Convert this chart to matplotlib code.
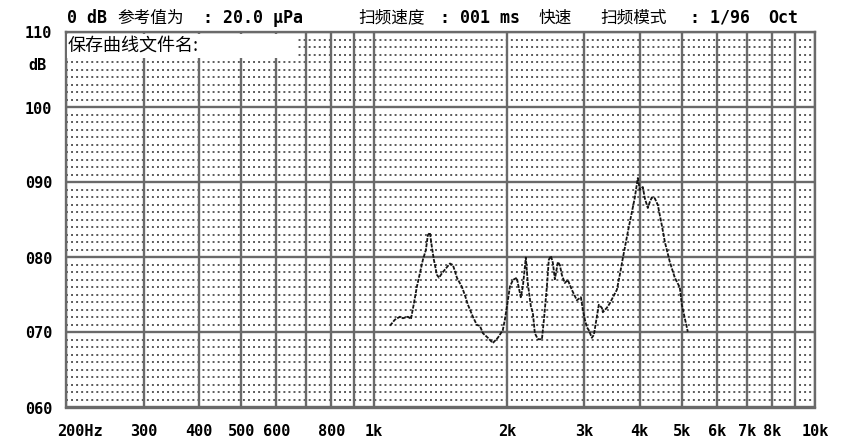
import matplotlib
matplotlib.use("Agg")
import matplotlib.pyplot as plt
import matplotlib.transforms as mtrans
from matplotlib.patches import Rectangle

# ---- data ----
freq_hz = [1086, 1114, 1144, 1162, 1193, 1212, 1231, 1250, 1270, 1290, 1310, 1324, 1338, 1352,
           1366, 1388, 1403, 1425, 1462, 1486, 1509, 1541, 1581, 1606, 1632, 1675, 1710, 1737,
           1765, 1811, 1859, 1908, 1958, 1979, 2000, 2032, 2064, 2107, 2118, 2151, 2174, 2197,
           2208, 2232, 2267, 2291, 2315, 2352, 2402, 2427, 2465, 2490, 2517, 2543, 2570, 2611,
           2638, 2665, 2707, 2750, 2808, 2883, 2944, 2975, 3006, 3038, 3069, 3118, 3151, 3200,
           3233, 3284, 3302, 3372, 3426, 3480, 3553, 3608, 3665, 3762, 3841, 3902, 3964, 4005,
           4068, 4111, 4176, 4220, 4264, 4331, 4400, 4493, 4564, 4685, 4809, 4936, 4988, 5066,
           5146]
level_db = [70.9, 71.7, 72.1, 71.9, 72.1, 71.8, 73.9, 76.1, 77.9, 79.7, 81.0, 83.0, 83.3, 81.4,
            79.7, 77.7, 77.3, 77.9, 78.7, 79.2, 79.0, 77.3, 76.1, 75.0, 73.7, 72.1, 71.0, 70.9,
            69.9, 69.3, 68.6, 69.3, 70.3, 71.7, 73.4, 76.1, 77.0, 77.3, 76.6, 74.7, 76.1, 78.7,
            80.0, 76.5, 73.5, 72.6, 69.9, 69.1, 69.1, 71.7, 76.1, 79.7, 80.2, 79.3, 77.1, 79.4,
            79.0, 77.7, 76.6, 77.0, 75.7, 74.3, 74.7, 73.0, 71.7, 70.7, 70.3, 69.3, 69.7, 72.1,
            73.7, 73.3, 72.7, 73.3, 73.9, 74.7, 75.7, 77.7, 79.9, 83.4, 86.0, 88.0, 90.6, 89.0,
            89.4, 87.9, 86.6, 87.4, 88.0, 87.9, 87.0, 84.3, 82.1, 79.4, 77.3, 76.0, 73.7, 71.9,
            70.1]

x_ticks = [200, 300, 400, 500, 600, 800, 1000, 2000, 3000, 4000, 5000, 6000, 7000, 8000, 10000]
x_tick_labels = ["200Hz", "300", "400", "500", "600", "800", "1k", "2k", "3k", "4k",
                 "5k", "6k", "7k", "8k", "10k"]
x_grid = [200, 300, 400, 500, 600, 700, 800, 900, 1000, 2000, 3000, 4000, 5000, 6000,
          7000, 8000, 9000, 10000]
y_ticks = [60, 70, 80, 90, 100, 110]
y_tick_labels = ["060", "070", "080", "090", "100", "110"]

# ---- figure ----
W, H = 850, 440
fig = plt.figure(figsize=(W / 100, H / 100), dpi=100)
ax = fig.add_axes([66 / W, (H - 407.5) / H, 749 / W, 375 / H])
ax.set_xscale("log")
ax.set_xlim(200, 10000)
ax.set_ylim(60, 110)

grid_col = "#6a6a6a"
# dotted 1 dB lines
for v in range(61, 110):
    if v % 10:
        ax.axhline(v, color="#5a5a5a", lw=1.4, ls=(0, (1, 1.6)), zorder=1)
for v in y_ticks:
    ax.axhline(v, color=grid_col, lw=1.7, zorder=2)
for f in x_grid:
    ax.axvline(f, color=grid_col, lw=1.7, zorder=2)

ax.plot(freq_hz, level_db, color="#151515", lw=1.3, ls=(0, (2.2, 0.7)), zorder=4)

for s in ax.spines.values():
    s.set_color(grid_col)
    s.set_linewidth(1.7)

mono = dict(family="DejaVu Sans Mono", fontweight="bold")
ax.set_xticks(x_ticks)
ax.set_xticklabels(x_tick_labels, fontsize=11, **mono)
ax.set_xticks([], minor=True)
ax.set_yticks(y_ticks)
ax.set_yticklabels(y_tick_labels, fontsize=11, **mono)
ax.tick_params(length=0, pad=10)
ax.tick_params(axis="x", pad=12)
lbl0 = ax.get_xticklabels()[0]
lbl0.set_horizontalalignment("left")
lbl0.set_transform(lbl0.get_transform() + mtrans.ScaledTranslation(-9 / 100, 0, fig.dpi_scale_trans))

fig.text(28 / W, 1 - 65 / H, "dB", fontsize=11, va="center", ha="left", **mono)

# white label box
ax.add_patch(Rectangle((0.002, 0.931), 0.308, 0.066, transform=ax.transAxes,
                       facecolor="white", edgecolor="none", zorder=3))
fig.text(68 / W, 1 - 46 / H, "保存曲线文件名:", fontsize=13, va="center", ha="left",
         family=["Noto Sans CJK SC", "DejaVu Sans"], zorder=5)

# header line
cjk = dict(family=["Noto Sans CJK SC", "DejaVu Sans"])
header = [
    (67, "0 dB", mono),
    (117, "参考值为", cjk),
    (203, ": 20.0 μPa", mono),
    (358, "扫频速度", cjk),
    (440, ": 001 ms", mono),
    (538, "快速", cjk),
    (600, "扫频模式", cjk),
    (690, ": 1/96", mono),
    (768, "Oct", mono),
]
for xp, t, st in header:
    fig.text(xp / W, 1 - 18 / H, t, fontsize=12, va="center", ha="left", **st)

fig.savefig("out.png", dpi=100, facecolor="white")
